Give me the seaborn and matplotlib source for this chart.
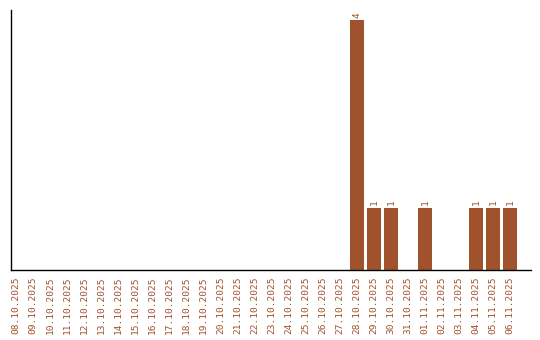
import matplotlib
matplotlib.use("Agg")
import matplotlib.pyplot as plt
import seaborn as sns
import pandas as pd

dates = ["08.10.2025", "09.10.2025", "10.10.2025", "11.10.2025", "12.10.2025",
         "13.10.2025", "14.10.2025", "15.10.2025", "16.10.2025", "17.10.2025",
         "18.10.2025", "19.10.2025", "20.10.2025", "21.10.2025", "22.10.2025",
         "23.10.2025", "24.10.2025", "25.10.2025", "26.10.2025", "27.10.2025",
         "28.10.2025", "29.10.2025", "30.10.2025", "31.10.2025", "01.11.2025",
         "02.11.2025", "03.11.2025", "04.11.2025", "05.11.2025", "06.11.2025"]
counts = [0, 0, 0, 0, 0, 0, 0, 0, 0, 0,
          0, 0, 0, 0, 0, 0, 0, 0, 0, 0,
          4, 1, 1, 0, 1, 0, 0, 1, 1, 1]

color = "#A0522D"
df = pd.DataFrame({"date": dates, "count": counts})

sns.set_style("white")
plt.rcParams['font.family'] = ['DejaVu Sans Mono', 'DejaVu Sans']

fig = plt.figure(figsize=(5.4, 3.4), dpi=100)
ax = fig.add_axes([11/540, 70/340, (530.7-11)/540, 260/340])
sns.barplot(data=df, x="date", y="count", color=color, saturation=1, width=0.82,
            edgecolor=color, linewidth=0, ax=ax)

labels = [str(c) if c > 0 else "" for c in counts]
ax.bar_label(ax.containers[0], labels=labels, rotation=90, padding=1.5,
             fontsize=6.8, color=color)

ax.set_xlim(-0.3, 30.2)
ax.set_ylim(0, 4.16)
ax.set_xlabel("")
ax.set_ylabel("")
ax.set_yticks([])
ax.tick_params(axis="x", length=0, pad=5, labelsize=6.8, labelcolor=color)
plt.setp(ax.get_xticklabels(), rotation=90)
for s in ["top", "right"]:
    ax.spines[s].set_visible(False)
for s in ["left", "bottom"]:
    ax.spines[s].set_color("black")
    ax.spines[s].set_linewidth(1.0)

fig.savefig("out.png", dpi=100)
